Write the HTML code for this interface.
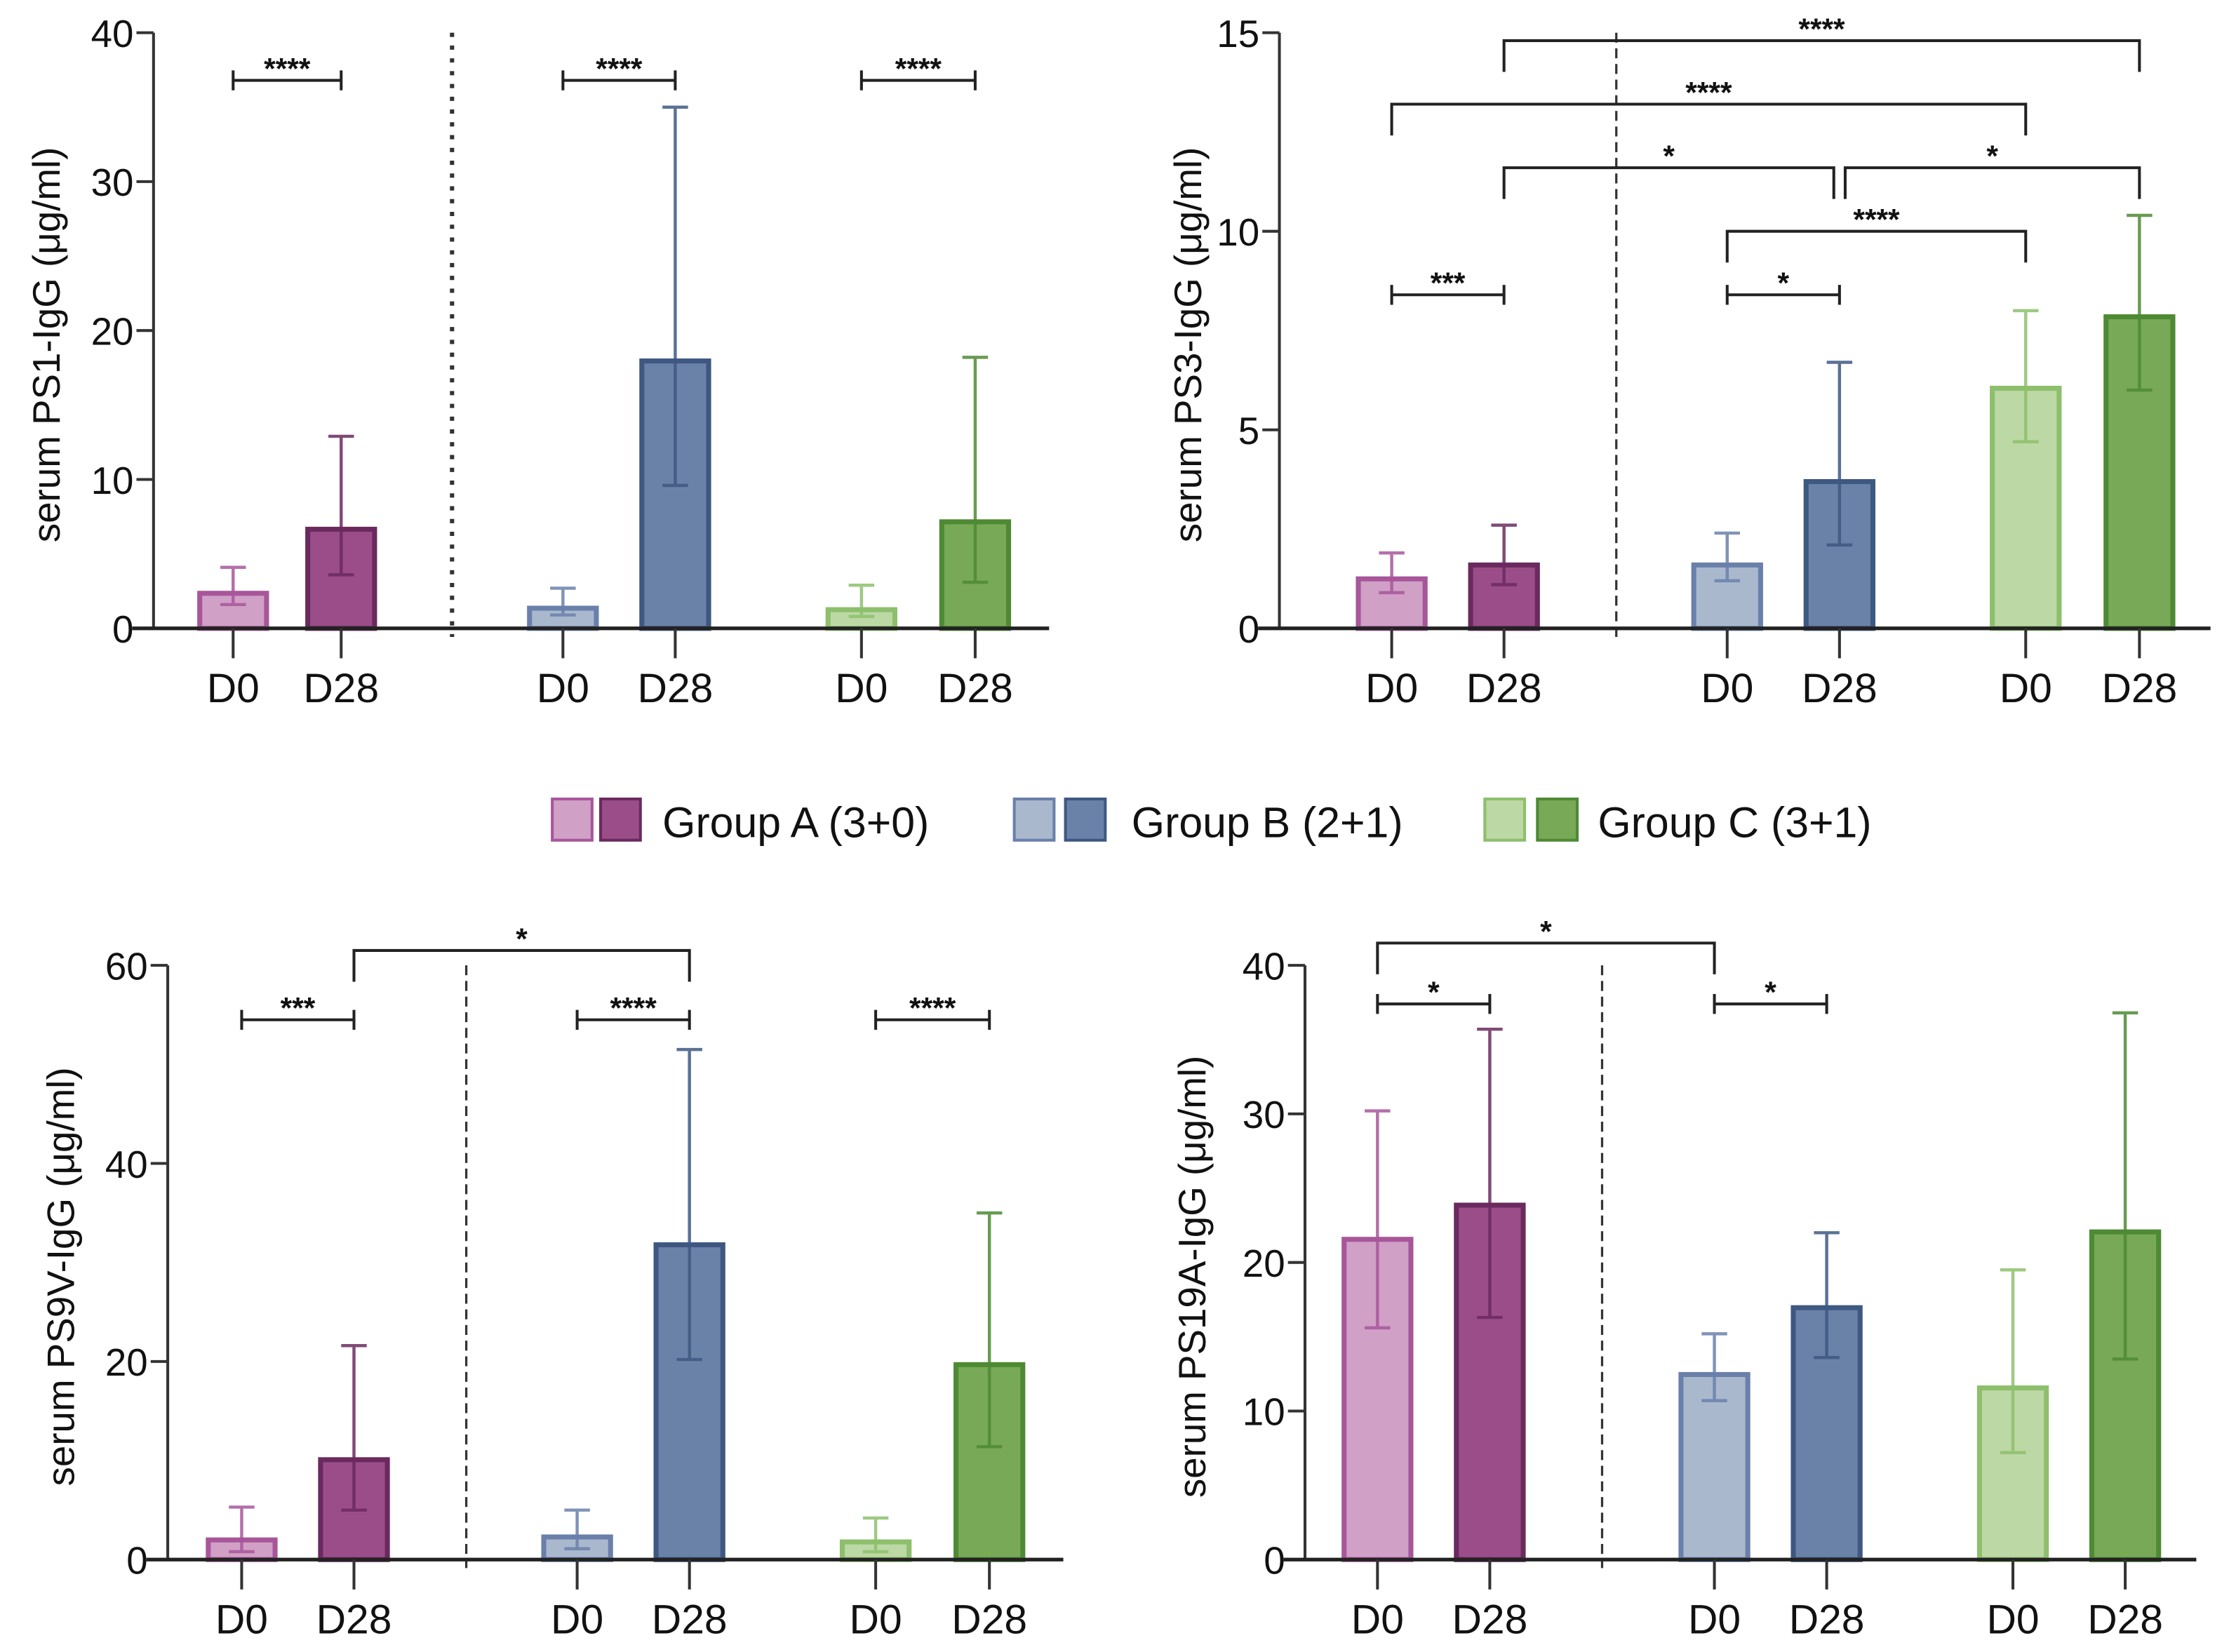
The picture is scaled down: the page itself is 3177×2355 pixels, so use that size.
<!DOCTYPE html>
<html><head><meta charset="utf-8">
<style>
html,body{margin:0;padding:0;background:#fff;}
svg{display:block;}
text{font-family:"Liberation Sans",Arial,sans-serif;fill:#111;}
</style></head>
<body>
<svg id="fig" width="3177" height="2355" viewBox="0 0 1568 1162" preserveAspectRatio="none" xmlns="http://www.w3.org/2000/svg"></svg>
<script>
// ---- data ----
const categories = ["D0","D28","D0","D28","D0","D28"];
const groups = ["Group A (3+0)","Group B (2+1)","Group C (3+1)"];
const ps1Values = [2.5, 6.8, 1.5, 18.1, 1.4, 7.3];
const ps1Low = [1.6, 3.6, 0.9, 9.6, 0.8, 3.1];
const ps1High = [4.1, 12.9, 2.7, 35.0, 2.9, 18.2];
const ps1Ticks = [0, 10, 20, 30, 40];
const ps3Values = [1.3, 1.65, 1.65, 3.75, 6.1, 7.9];
const ps3Low = [0.9, 1.1, 1.2, 2.1, 4.7, 6.0];
const ps3High = [1.9, 2.6, 2.4, 6.7, 8.0, 10.4];
const ps3Ticks = [0, 5, 10, 15];
const ps9Values = [2.2, 10.3, 2.5, 32.0, 2.0, 19.9];
const ps9Low = [0.8, 5.0, 1.1, 20.2, 0.8, 11.4];
const ps9High = [5.3, 21.6, 5.0, 51.5, 4.2, 35.0];
const ps9Ticks = [0, 20, 40, 60];
const ps19Values = [21.7, 24.0, 12.6, 17.1, 11.7, 22.2];
const ps19Low = [15.6, 16.3, 10.7, 13.6, 7.2, 13.5];
const ps19High = [30.2, 35.7, 15.2, 22.0, 19.5, 36.8];
const ps19Ticks = [0, 10, 20, 30, 40];
// significance brackets: [fromBarIndex, toBarIndex, level value, label, drop]
const ps1Sig = [[0,1,36.8,"****",0],[2,3,36.8,"****",0],[4,5,36.8,"****",0]];
const ps3Sig = [[0,1,8.4,"***",0],[2,3,8.4,"*",0],[2,4,10.0,"****",1],[1,3,11.6,"*",1],[3,5,11.6,"*",1],[0,4,13.2,"****",1],[1,5,14.8,"****",1]];
const ps9Sig = [[0,1,54.5,"***",0],[2,3,54.5,"****",0],[4,5,54.5,"****",0],[1,3,61.5,"*",1]];
const ps19Sig = [[0,1,37.4,"*",0],[2,3,37.4,"*",0],[0,2,41.5,"*",1]];

const fills = ["#d0a0c6","#9b4d8a","#aab8ce","#6b82a8","#bcd8a4","#78a956"];
const strokes = ["#a8569a","#6a2a5e","#6a80aa","#3e5882","#8dbf6c","#4e8a34"];
const NS = "http://www.w3.org/2000/svg";
const svg = document.getElementById("fig");
function mk(tag, attrs, parent){
  const e = document.createElementNS(NS, tag);
  for (const k in attrs) e.setAttribute(k, attrs[k]);
  (parent||svg).appendChild(e);
  return e;
}
function panel(cfg){
  const g = mk("g", {});
  
  
  const max = cfg.ticks[cfg.ticks.length-1];
  const y = v => cfg.y0 - (v/max)*(cfg.y0 - cfg.yTop);
  const x = i => cfg.xs[i];
  const ya = mk("line",{x1:cfg.ax,y1:cfg.yTop,x2:cfg.ax,y2:cfg.y0,stroke:"#333","stroke-width":2},g);
  
  
  cfg.ticks.forEach(t=>{
    mk("line",{x1:cfg.ax-12,y1:y(t),x2:cfg.ax,y2:y(t),stroke:"#333","stroke-width":2},g);
    const tl = mk("text",{x:cfg.ax-14,y:y(t)+10,"text-anchor":"end","font-size":27},g);
    tl.textContent = t;
    
    
  });
  const tt = mk("text",{x:0,y:0,"text-anchor":"middle","font-size":27,transform:`translate(${cfg.titleX},${(cfg.y0+cfg.yTop)/2+10}) rotate(-90)`},g);
  tt.textContent = cfg.title;
  
  
  const dv = mk("line",{x1:cfg.div,y1:cfg.yTop,x2:cfg.div,y2:cfg.y0+6,stroke:"#333","stroke-width":cfg.dotted?3:1.6,"stroke-dasharray":cfg.dotted?"3,6":"7,4"},g);
  
  
  const bw = 50;
  cfg.values.forEach((v,i)=>{
    const r = mk("rect",{x:x(i)-bw/2+1.5,y:y(v)+1.5,width:bw-3,height:y(0)-y(v)-1.5,fill:fills[i],stroke:strokes[i],"stroke-width":3.5},g);
    
    
    const eb = mk("path",{d:`M${x(i)},${y(cfg.low[i])}V${y(cfg.high[i])}M${x(i)-9},${y(cfg.high[i])}H${x(i)+9}M${x(i)-9},${y(cfg.low[i])}H${x(i)+9}`,stroke:strokes[i],"stroke-width":2.2,fill:"none",opacity:0.85},g);
    
    
  });
  const xa = mk("line",{x1:cfg.ax-15,y1:cfg.y0,x2:cfg.axEnd,y2:cfg.y0,stroke:"#222","stroke-width":2.6},g);
  
  
  categories.forEach((c,i)=>{
    mk("line",{x1:x(i),y1:cfg.y0,x2:x(i),y2:cfg.y0+21,stroke:"#333","stroke-width":2},g);
    const l = mk("text",{x:x(i),y:cfg.y0+52,"text-anchor":"middle","font-size":29},g);
    l.textContent = c;
    
    
  });
  cfg.sig.forEach(s=>{
    let x1 = x(s[0]), x2 = x(s[1]);
    if (s[4] && cfg.splitAt !== undefined) {
      if (s[1] === cfg.splitAt) x2 -= 4;
      if (s[0] === cfg.splitAt) x1 += 4;
    }
    const yy = y(s[2]);
    const d = s[4] ? `M${x1},${yy+22}V${yy}H${x2}V${yy+22}` : `M${x1},${yy-7}V${yy+7}M${x1},${yy}H${x2}M${x2},${yy-7}V${yy+7}`;
    const p = mk("path",{d:d,stroke:"#222","stroke-width":2,fill:"none"},g);
    
    
    const t = mk("text",{x:(x1+x2)/2,y:yy-1,"text-anchor":"middle","font-size":21,"font-weight":"bold"},g);
    t.textContent = s[3];
    
    
  });
}
panel({name:"ps1-panel",title:"serum PS1-IgG (μg/ml)",ax:108,axEnd:738,y0:442,yTop:23,titleX:42,div:318,dotted:true,
  xs:[164,240,396,475,606,686],values:ps1Values,low:ps1Low,high:ps1High,ticks:ps1Ticks,sig:ps1Sig});
panel({name:"ps3-panel",title:"serum PS3-IgG (μg/ml)",ax:900,axEnd:1555,y0:442,yTop:23,titleX:845,div:1137,dotted:false,splitAt:3,
  xs:[979,1058,1215,1294,1425,1505],values:ps3Values,low:ps3Low,high:ps3High,ticks:ps3Ticks,sig:ps3Sig});
panel({name:"ps9v-panel",title:"serum PS9V-IgG (μg/ml)",ax:118,axEnd:748,y0:1097,yTop:679,titleX:52,div:328,dotted:false,
  xs:[170,249,406,485,616,696],values:ps9Values,low:ps9Low,high:ps9High,ticks:ps9Ticks,sig:ps9Sig});
panel({name:"ps19a-panel",title:"serum PS19A-IgG (μg/ml)",ax:918,axEnd:1545,y0:1097,yTop:679,titleX:848,div:1127,dotted:false,
  xs:[969,1048,1206,1285,1416,1495],values:ps19Values,low:ps19Low,high:ps19High,ticks:ps19Ticks,sig:ps19Sig});
const lg = mk("g",{});


const lx = [[387,421,466],[712,748,796],[1043,1080,1124]];
groups.forEach((gname,k)=>{
  const e = mk("g",{},lg);
  
  
  mk("rect",{x:lx[k][0]+1.5,y:562,width:28,height:29,fill:fills[2*k],stroke:strokes[2*k],"stroke-width":2},e);
  mk("rect",{x:lx[k][1]+1.5,y:562,width:28,height:29,fill:fills[2*k+1],stroke:strokes[2*k+1],"stroke-width":2},e);
  const t = mk("text",{x:lx[k][2],y:589,"font-size":30},e);
  t.textContent = gname;
});
</script>
</body></html>
